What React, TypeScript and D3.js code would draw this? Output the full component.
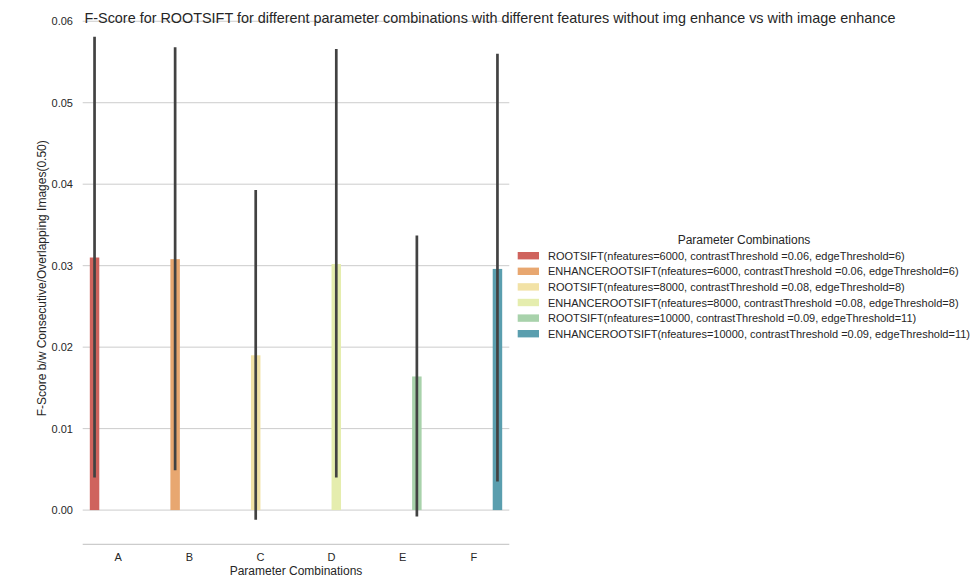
import * as d3 from 'd3'

const categories = ['A', 'B', 'C', 'D', 'E', 'F']
const hueLabels = [
  'ROOTSIFT(nfeatures=6000, contrastThreshold =0.06, edgeThreshold=6)',
  'ENHANCEROOTSIFT(nfeatures=6000, contrastThreshold =0.06, edgeThreshold=6)',
  'ROOTSIFT(nfeatures=8000, contrastThreshold =0.08, edgeThreshold=8)',
  'ENHANCEROOTSIFT(nfeatures=8000, contrastThreshold =0.08, edgeThreshold=8)',
  'ROOTSIFT(nfeatures=10000, contrastThreshold =0.09, edgeThreshold=11)',
  'ENHANCEROOTSIFT(nfeatures=10000, contrastThreshold =0.09, edgeThreshold=11)',
]
const fscore = [0.031, 0.0308, 0.019, 0.0302, 0.0164, 0.0296]
const ciLow = [0.004, 0.0049, -0.0012, 0.004, -0.0008, 0.0035]
const ciHigh = [0.0581, 0.0568, 0.0393, 0.0566, 0.0337, 0.056]
const yTicks = [0, 0.01, 0.02, 0.03, 0.04, 0.05, 0.06]
const palette = ['#cf635d', '#e8a770', '#f2e2a6', '#e5edae', '#a8d2ab', '#5a9eae']

const W = 980
const H = 576
const font = 'Arial, "Liberation Sans", sans-serif'
const textColor = '#262626'

export default function App() {
  const x = d3.scaleLinear().domain([-0.5, categories.length - 0.5]).range([82.7, 509.3])
  const hue = d3.scaleBand<number>().domain(d3.range(hueLabels.length)).range([-0.4, 0.4])
  const y = d3.scaleLinear().domain([-0.0042, 0.0611]).range([544.3, 12.3])
  const [x0, x1] = x.range()
  const fmt = d3.format('.2f')

  const bars = categories.map((c, i) => {
    const h = i // each category holds one hue
    const left = x(i + (hue(h) as number))
    const right = x(i + (hue(h) as number) + hue.bandwidth())
    return { c, i, left, width: right - left, cx: (left + right) / 2 }
  })

  return (
    <div style={{ position: 'absolute', left: 0, top: 0 }}>
      <svg width={W} height={H} style={{ display: 'block', background: '#fff' }} fontFamily={font}>
        {yTicks.map(t => (
          <g key={t}>
            <line x1={x0} x2={x1} y1={y(t)} y2={y(t)} stroke="#cccccc" strokeWidth={1} />
            <text x={73} y={y(t)} textAnchor="end" dominantBaseline="central" fontSize={11} fill={textColor}>
              {fmt(t)}
            </text>
          </g>
        ))}
        <line x1={x0} x2={x1} y1={y.range()[0]} y2={y.range()[0]} stroke="#cccccc" strokeWidth={1.25} />

        {bars.map(b => (
          <rect key={b.c} x={b.left} width={b.width} y={y(fscore[b.i])} height={y(0) - y(fscore[b.i])} fill={palette[b.i]} />
        ))}
        {bars.map(b => (
          <line key={b.c} x1={b.cx} x2={b.cx} y1={y(ciLow[b.i])} y2={y(ciHigh[b.i])} stroke="#424242" strokeWidth={2.7} />
        ))}

        {categories.map((c, i) => (
          <text key={c} x={x(i)} y={561} textAnchor="middle" fontSize={11} fill={textColor}>{c}</text>
        ))}
        <text x={(x0 + x1) / 2} y={575} textAnchor="middle" fontSize={12} fill={textColor}>Parameter Combinations</text>
        <text
          transform={`translate(45.5,${(y.range()[0] + y.range()[1]) / 2}) rotate(-90)`}
          textAnchor="middle"
          fontSize={12}
          fill={textColor}
        >
          F-Score b/w Consecutive/Overlapping Images(0.50)
        </text>

        <text x={490} y={23} textAnchor="middle" fontSize={14.4} fill={textColor}>
          F-Score for ROOTSIFT for different parameter combinations with different features without img enhance vs with image enhance
        </text>

        <text x={744} y={240} textAnchor="middle" dominantBaseline="central" fontSize={12} fill={textColor}>Parameter Combinations</text>
        {hueLabels.map((l, i) => (
          <g key={l} transform={`translate(0,${255.7 + i * 15.6})`}>
            <rect x={517.7} y={-3.7} width={21.3} height={7.4} fill={palette[i]} />
            <text x={548} y={0} dominantBaseline="central" fontSize={11} fill={textColor}>{l}</text>
          </g>
        ))}
      </svg>
    </div>
  )
}
